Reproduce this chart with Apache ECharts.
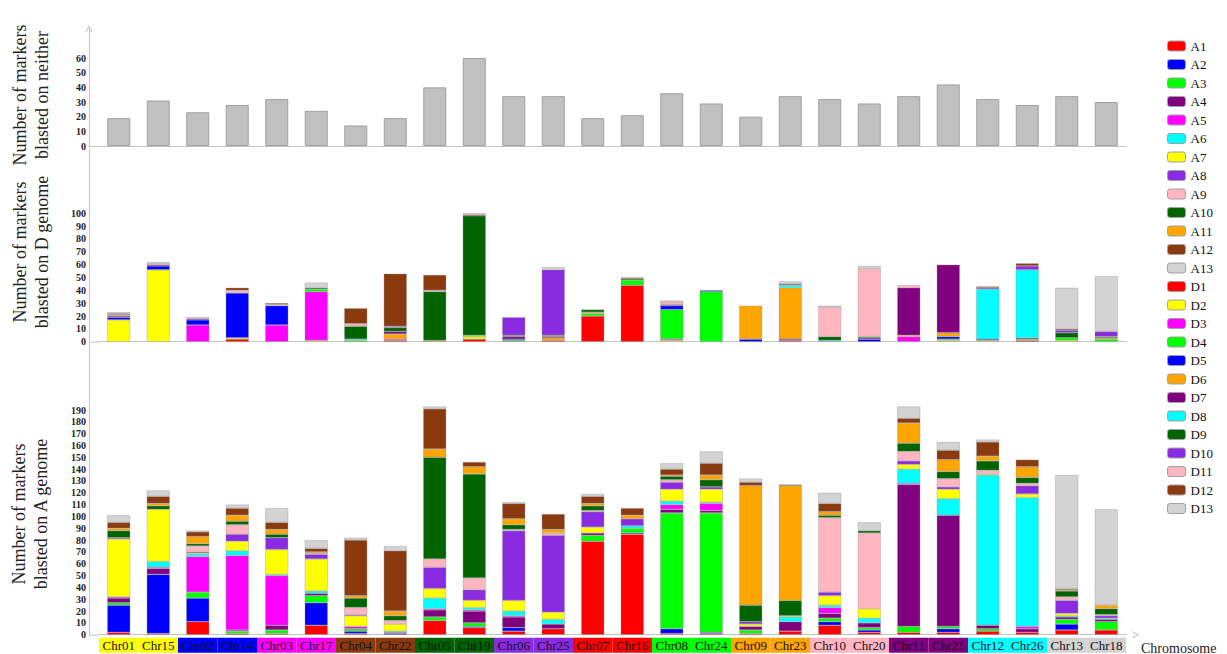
<!DOCTYPE html>
<html>
<head>
<meta charset="utf-8">
<title>Markers per chromosome</title>
<script src="https://cdn.jsdelivr.net/npm/echarts@6/dist/echarts.min.js"></script>
<style>
  html, body { margin: 0; padding: 0; background: #ffffff; }
  #chart { width: 1227px; height: 654px; }
</style>
</head>
<body>
<div id="chart"></div>
<script>
// Chromosomes, in homoeologous pairs
const chromosomes = ['Chr01','Chr15','Chr02','Chr14','Chr03','Chr17','Chr04','Chr22','Chr05','Chr19','Chr06','Chr25','Chr07','Chr16','Chr08','Chr24','Chr09','Chr23','Chr10','Chr20','Chr11','Chr21','Chr12','Chr26','Chr13','Chr18'];

// Markers blasted on neither genome
const neither = [19,31,23,28,32,24,14,19,40,60,34,34,19,21,36,29,20,34,32,29,34,42,32,28,34,30];

// Markers blasted on the A genome, one array per A chromosome
const A1  = [2,1,11,1,1,8,1,0,12,6,3,5,79,85,1,1,1,3,8,2,2,2,3,2,4,4];
const A2  = [23,50,20,0,0,19,2,1,0,1,3,0,0,1,4,1,0,0,3,2,0,3,0,0,5,0];
const A3  = [2,0,5,2,3,6,2,0,3,3,0,0,5,4,98,101,3,0,3,2,5,2,2,0,4,7];
const A4  = [4,5,0,1,4,2,0,1,6,10,9,4,2,0,3,2,3,8,4,4,120,94,3,3,2,2];
const A5  = [1,1,30,63,42,0,2,0,1,1,1,0,0,0,4,6,0,0,5,0,1,0,0,2,0,0];
const A6  = [0,5,2,4,1,2,0,1,9,2,4,4,0,2,3,1,0,4,2,4,12,14,127,109,1,1];
const A7  = [49,44,1,8,21,27,9,6,8,6,9,6,5,0,10,11,2,1,8,8,4,8,1,3,2,0];
const A8  = [1,0,1,6,10,4,1,0,18,9,59,65,13,6,6,2,2,0,3,0,3,2,0,7,11,2];
const A9  = [0,0,5,8,0,1,6,3,7,10,1,2,1,0,2,0,0,0,63,64,8,7,3,2,3,1];
const A10 = [6,3,2,3,3,0,8,4,86,88,4,0,4,0,3,6,14,13,2,2,7,6,8,5,5,5];
const A11 = [2,2,6,5,4,1,2,4,7,6,5,3,2,3,1,4,101,97,3,0,17,10,4,9,1,3];
const A12 = [5,6,4,6,6,3,47,51,34,4,13,13,6,6,5,10,3,1,7,0,4,8,12,6,1,0];
const A13 = [6,5,1,3,12,7,2,4,2,0,1,0,2,0,5,10,3,0,9,7,10,7,2,0,96,81];

// Markers blasted on the D genome, one array per D chromosome
const D1  = [0,0,0,2,0,0,0,1,0,2,0,1,20,44,0,0,0,1,0,0,0,0,0,1,0,0];
const D2  = [17,56,0,1,0,1,0,0,0,2,0,0,0,0,1,0,0,0,0,0,0,1,1,0,1,0];
const D3  = [0,0,13,0,13,38,0,1,0,0,0,0,0,0,1,0,0,0,0,0,4,0,0,0,0,0];
const D4  = [0,0,0,0,0,2,1,0,0,1,1,0,2,4,23,39,0,0,0,0,0,1,0,1,2,2];
const D5  = [2,3,4,35,15,0,0,0,0,0,1,0,0,0,3,1,2,1,0,2,0,2,1,0,0,0];
const D6  = [0,0,0,0,0,0,0,4,1,0,0,2,1,0,0,0,26,40,0,0,1,3,0,0,0,1];
const D7  = [1,1,1,0,0,0,0,2,0,0,2,1,0,0,1,0,0,0,0,1,37,53,0,1,0,0];
const D8  = [0,0,0,0,0,0,1,0,0,0,0,0,0,0,0,0,0,2,1,0,0,0,39,53,0,0];
const D9  = [0,0,0,0,0,1,10,3,38,93,1,1,2,1,0,0,0,0,3,1,0,0,0,0,4,1];
const D10 = [0,0,0,0,0,0,0,1,0,0,14,51,0,0,0,0,0,0,0,0,0,0,1,3,2,4];
const D11 = [1,1,0,2,1,0,2,0,1,0,0,0,0,0,2,0,0,0,23,53,2,0,0,0,0,0];
const D12 = [1,0,0,2,1,0,12,41,12,1,0,0,0,1,0,0,0,1,0,0,0,0,1,2,1,0];
const D13 = [1,1,1,0,0,4,0,0,0,1,0,2,0,0,1,0,0,2,1,2,0,0,0,0,32,43];

// Axis tick labels shown on each panel
const neitherTicks = [0,10,20,30,40,50,60];
const dTicks = [0,10,20,30,40,50,60,70,80,90,100];
const aTicks = [0,10,20,30,40,50,60,70,80,90,100,110,120,130,140,150,160,170,180,190];

const aNames = ['A1','A2','A3','A4','A5','A6','A7','A8','A9','A10','A11','A12','A13'];
const dNames = ['D1','D2','D3','D4','D5','D6','D7','D8','D9','D10','D11','D12','D13'];
const aValues = [A1,A2,A3,A4,A5,A6,A7,A8,A9,A10,A11,A12,A13];
const dValues = [D1,D2,D3,D4,D5,D6,D7,D8,D9,D10,D11,D12,D13];

// Palette
const RED = '#FF0000', BLUE = '#0000FF', LIME = '#00FF00', PURPLE = '#800080',
      MAGENTA = '#FF00FF', CYAN = '#00FFFF', YELLOW = '#FFFF00', VIOLET = '#8A2BE2',
      PINK = '#FFB6C1', DKGREEN = '#006400', ORANGE = '#FFA500', BROWN = '#8B3A10',
      LTGRAY = '#D3D3D3';
const aColors = [RED, BLUE, LIME, PURPLE, MAGENTA, CYAN, YELLOW, VIOLET, PINK, DKGREEN, ORANGE, BROWN, LTGRAY];
const dColors = [RED, YELLOW, MAGENTA, LIME, BLUE, ORANGE, PURPLE, CYAN, DKGREEN, VIOLET, PINK, BROWN, LTGRAY];
const pairColors = [YELLOW, BLUE, MAGENTA, BROWN, DKGREEN, VIOLET, RED, LIME, ORANGE, PINK, PURPLE, CYAN, LTGRAY];

const SERIF = '"Liberation Serif", "DejaVu Serif", serif';
const AXIS_GRAY = '#c4c4c4';
const chevronUp = 'path://M0,10 L5,0 L10,10 L8.4,10 L5,3.2 L1.6,10 Z';

const chart = echarts.init(document.getElementById('chart'), null, { renderer: 'svg' });

// Category label boxes coloured by chromosome pair
const labelRich = {};
chromosomes.forEach((c, i) => {
  labelRich['b' + i] = {
    backgroundColor: pairColors[Math.floor(i / 2)],
    width: 39.5, height: 15, lineHeight: 15, align: 'center',
    fontFamily: SERIF, fontSize: 13, color: '#111'
  };
});

function valueAxis(gridIndex, max, ticks, withArrow) {
  const top = ticks[ticks.length - 1];
  return {
    gridIndex, type: 'value', min: 0, max, interval: 10, offset: 10,
    axisLine: {
      show: true,
      lineStyle: { color: AXIS_GRAY, width: 1 },
      symbol: withArrow ? ['none', chevronUp] : 'none',
      symbolSize: [10, 7]
    },
    axisTick: { show: false },
    splitLine: { show: false },
    axisLabel: {
      margin: 3, fontFamily: SERIF, fontWeight: 'bold', fontSize: 10, color: '#222',
      formatter: v => (v <= top && ticks.indexOf(v) >= 0) ? String(v) : ''
    }
  };
}

function categoryAxis(gridIndex, withLabels) {
  const ax = {
    gridIndex, type: 'category', data: chromosomes,
    axisLine: { show: true, lineStyle: { color: AXIS_GRAY, width: 1 } },
    axisTick: { show: false },
    axisLabel: { show: false }
  };
  if (withLabels) {
    ax.axisLabel = {
      show: true, interval: 0, margin: 3,
      formatter: (value, idx) => '{b' + idx + '|' + value + '}',
      rich: labelRich
    };
    ax.axisLine.symbol = ['none', chevronUp];
    ax.axisLine.symbolSize = [10, 7];
    ax.axisLine.symbolOffset = [0, 10];
  }
  return ax;
}

const segBorder = { borderColor: 'rgba(150,150,150,0.75)', borderWidth: 0.5 };
const asBarData = arr => arr.map(v => (v === 0 ? '-' : v));

const series = [];
series.push({
  name: 'Neither', type: 'bar', xAxisIndex: 0, yAxisIndex: 0, barWidth: 23,
  data: neither,
  itemStyle: { color: '#C0C0C0', borderColor: '#a0a0a0', borderWidth: 1 }
});
dNames.forEach((n, k) => {
  series.push({
    name: n, type: 'bar', stack: 'D', xAxisIndex: 1, yAxisIndex: 1, barWidth: 23,
    data: asBarData(dValues[k]),
    itemStyle: Object.assign({ color: dColors[k] }, segBorder)
  });
});
aNames.forEach((n, k) => {
  series.push({
    name: n, type: 'bar', stack: 'A', xAxisIndex: 2, yAxisIndex: 2, barWidth: 23,
    data: asBarData(aValues[k]),
    itemStyle: Object.assign({ color: aColors[k] }, segBorder)
  });
});

const nameStyle = (text) => ({
  text, fontFamily: SERIF, fontSize: 18, lineHeight: 22, fill: '#222',
  align: 'center', verticalAlign: 'middle'
});

const option = {
  backgroundColor: '#ffffff',
  animation: false,
  grid: [
    { left: 99, right: 101, top: 28.7, height: 117.3 },
    { left: 99, right: 101, top: 149.1, height: 192.6 },
    { left: 99, right: 101, top: 343.8, height: 290.9 }
  ],
  xAxis: [categoryAxis(0, false), categoryAxis(1, false), categoryAxis(2, true)],
  yAxis: [
    valueAxis(0, 80, neitherTicks, true),
    valueAxis(1, 150, dTicks, false),
    valueAxis(2, 246, aTicks, false)
  ],
  legend: {
    data: aNames.concat(dNames),
    orient: 'vertical', left: 1167, top: 39.5, padding: 0,
    itemWidth: 18, itemHeight: 10, itemGap: 5.5,
    selectedMode: false,
    itemStyle: { borderColor: '#a0a0a0', borderWidth: 1 },
    textStyle: { fontFamily: SERIF, fontSize: 13, color: '#111' }
  },
  graphic: [
    { type: 'text', x: 31, y: 95, rotation: Math.PI / 2, style: nameStyle('Number of markers\nblasted on neither') },
    { type: 'text', x: 31, y: 252, rotation: Math.PI / 2, style: nameStyle('Number of markers\nblasted on D genome') },
    { type: 'text', x: 30, y: 514, rotation: Math.PI / 2, style: nameStyle('Number of markers\nblasted on A genome') },
    { type: 'text', x: 1141, y: 648, style: { text: 'Chromosome', fontFamily: SERIF, fontSize: 14, fill: '#222', align: 'left', verticalAlign: 'middle' } },
    { type: 'line', shape: { x1: 89, y1: 146.5, x2: 99, y2: 146.5 }, style: { stroke: AXIS_GRAY, lineWidth: 1 } },
    { type: 'line', shape: { x1: 89, y1: 342.2, x2: 99, y2: 342.2 }, style: { stroke: AXIS_GRAY, lineWidth: 1 } },
    { type: 'line', shape: { x1: 89, y1: 635.2, x2: 99, y2: 635.2 }, style: { stroke: AXIS_GRAY, lineWidth: 1 } }
  ],
  series
};

chart.setOption(option);
</script>
</body>
</html>
